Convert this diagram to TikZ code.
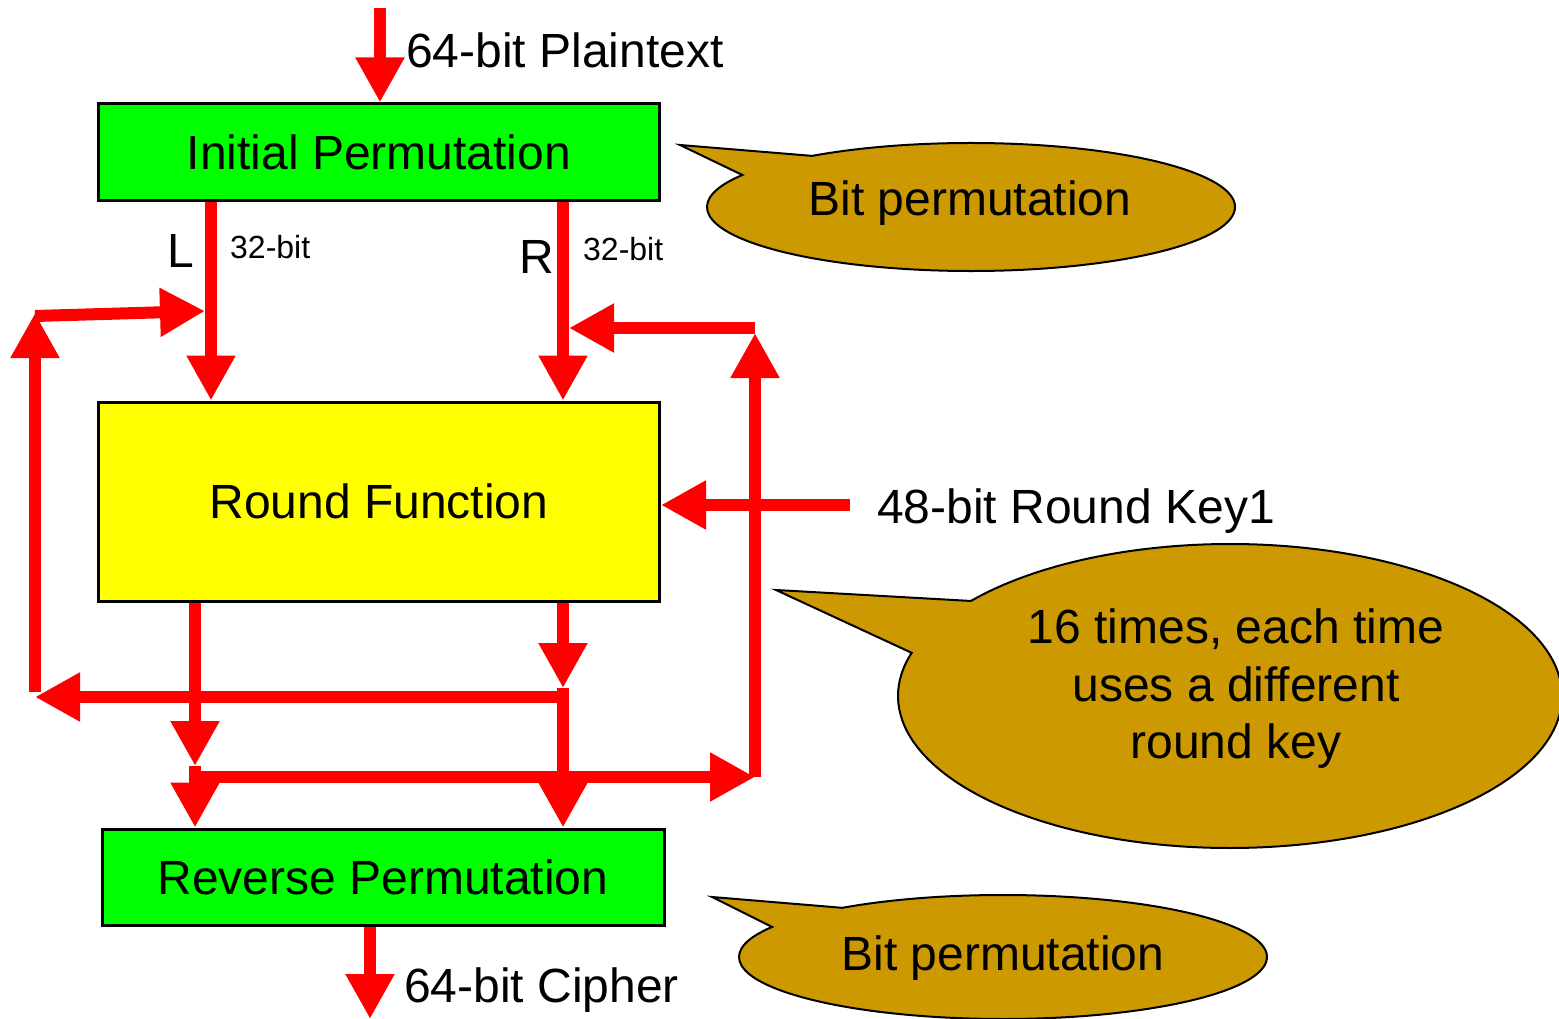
\documentclass[tikz,border=0pt]{standalone}
\usepackage{fontspec}
\setmainfont{Liberation Sans}
\usetikzlibrary{arrows.meta,calc}

\definecolor{boxgreen}{RGB}{0,255,0}
\definecolor{boxyellow}{RGB}{255,255,0}
\definecolor{flow}{RGB}{255,0,0}
\definecolor{gold}{RGB}{204,153,0}

\begin{document}
\begin{tikzpicture}[x=1pt,y=-1pt,
  big/.style={font=\fontsize{48}{57.5}\selectfont},
  small/.style={font=\fontsize{32}{38}\selectfont},
  block/.style={draw=black, line width=3pt, inner sep=0pt, big},
  label/.style={inner sep=0pt, anchor=base west},
  arr/.style={draw=flow, line width=12pt, -{Triangle[length=45pt,width=46pt]}},
  callout/.style={fill=gold, draw=black, line width=2pt, line join=miter}]

\useasboundingbox (0,0) rectangle (1559,1019);

% main blocks
\node[block, fill=boxgreen, minimum width=561pt, minimum height=97pt] (ip) at (379,152.5) {Initial Permutation};
\node[block, fill=boxyellow, minimum width=561pt, minimum height=199pt] (rf) at (379,501.5) {Round Function};
\node[block, fill=boxgreen, minimum width=562pt, minimum height=96pt] (rp) at (383,877) {Reverse Permutation};

% labels
\node[big, label] (ptxt) at (406,68) {64-bit Plaintext};
\node[big, label] (ctxt) at (404,1002) {64-bit Cipher};
\node[big, label] (ktxt) at (877,523) {48-bit Round Key1};
\node[big, label] (ltxt) at (167,268) {L};
\node[big, label] (rtxt) at (519,273) {R};
\node[small, label] (lbits) at (230,259) {32-bit};
\node[small, label] (rbits) at (583,261) {32-bit};

% junction points of the data paths
\coordinate (pin) at (380,8);
\coordinate (Lx) at (211,0);
\coordinate (Rx) at (563,0);
\coordinate (Ltip) at (205,311);
\coordinate (Rtip) at (569,328);
\coordinate (ltop) at (35,313);
\coordinate (lbot) at (35,692);
\coordinate (lend) at (35,697);
\coordinate (rsplit) at (563,697);
\coordinate (rmidtip) at (563,688);
\coordinate (lsplit) at (195,777);
\coordinate (lmidtip) at (195,766);
\coordinate (rcorner) at (755,777);
\coordinate (rtop) at (755,333);
\coordinate (rtopc) at (755,328);
\coordinate (kin) at (850,505);
\coordinate (cout) at (370,1019);

% data paths
\draw[arr] (pin) -- (pin |- ip.north);
\draw[arr] (Lx |- ip.south) -- (Lx |- rf.north);
\draw[arr] (Rx |- ip.south) -- (Rx |- rf.north);

\draw[arr] (rf.south -| rsplit) -- (rmidtip);
\draw[arr] (rsplit) -- (lend);
\draw[arr] (lbot) -- (ltop);
\draw[arr] (35,316) -- (Ltip);
\draw[arr] (rmidtip) -- (rsplit |- rp.north);

\draw[arr] (rf.south -| lsplit) -- (lmidtip);
\draw[arr] (lmidtip) -- (lsplit |- rp.north);
\draw[arr] (lsplit) -- (rcorner);
\draw[arr] (rcorner) -- (rtop);
\draw[arr] (rtopc) -- (Rtip);

\draw[arr] (kin) -- (rf.east |- kin);
\draw[arr] (rp.south -| cout) -- (cout);

% callouts
\draw[callout] (680,145) -- ($(971,207)+(127:264pt and 64pt)$)
  arc[start angle=127, end angle=-210, x radius=264pt, y radius=64pt] -- cycle;
\node[big, anchor=base] (c1) at (970,216) {Bit permutation};

\draw[callout] (776,590) -- ($(1230,696)+(141.3:332pt and 152pt)$)
  arc[start angle=141.3, end angle=-196.5, x radius=332pt, y radius=152pt] -- cycle;
\node[big, align=center] (c2) at (1236,689) {16 times, each time\\uses a different\\round key};

\draw[callout] (712,897) -- ($(1003,957)+(127.5:264pt and 62pt)$)
  arc[start angle=127.5, end angle=-209, x radius=264pt, y radius=62pt] -- cycle;
\node[big, anchor=base] (c3) at (1003,970) {Bit permutation};

\end{tikzpicture}
\end{document}
